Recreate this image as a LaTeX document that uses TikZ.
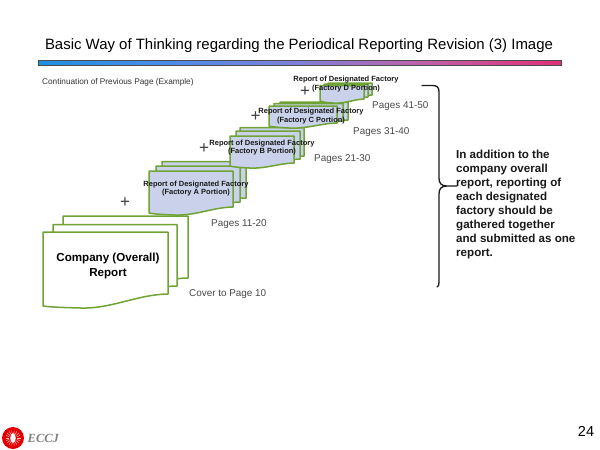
\documentclass[tikz,border=0pt]{standalone}
\usepackage{fontspec}
\setmainfont{Liberation Sans}
\newfontfamily\logofont{Liberation Serif}
\definecolor{docgreen}{HTML}{6FA335}
\definecolor{docfill}{HTML}{C9D2EA}
\definecolor{pagegray}{HTML}{4A4A4A}
\definecolor{barA}{HTML}{1E8FE0}
\definecolor{barB}{HTML}{4A8CEA}
\definecolor{barC}{HTML}{8080D8}
\definecolor{barD}{HTML}{C060A8}
\definecolor{barE}{HTML}{E03078}
\definecolor{barF}{HTML}{E0186E}
\pgfdeclarehorizontalshading{barshade}{100bp}{
  color(0bp)=(barA);
  color(25bp)=(barA);
  color(37bp)=(barB);
  color(50bp)=(barC);
  color(62bp)=(barD);
  color(75bp)=(barE);
  color(100bp)=(barF)}
\tikzset{
  pagedoc/.style={draw=docgreen,line width=1.5pt,line join=round},
  whitedoc/.style={pagedoc,fill=white},
  bluedoc/.style={pagedoc,fill=docfill},
  reportlabel/.style={font=\bfseries\fontsize{7.5}{8.6}\selectfont,align=center,inner sep=0pt,text=black!90},
  pagelabel/.style={font=\fontsize{9.9}{11}\selectfont,text=pagegray,anchor=west,inner sep=0pt},
  plusmark/.style={font=\fontsize{17}{17}\selectfont,text=black!75,inner sep=0pt},
}
% #1 style, #2 left, #3 top, #4 right, #5 bottom at the right, #6 bottom at the left
\newcommand\pagedocshape[6]{%
  \draw[#1] (#2,#3) -- (#4,#3) -- (#4,#5)
    .. controls ({#4-0.25*(#4-#2)},{#5+0.5}) and ({#4-0.45*(#4-#2)},{#6+3}) ..
    ({#2+0.3*(#4-#2)},{#6+2})
    .. controls ({#2+0.15*(#4-#2)},{#6+1.5}) and ({#2+0.05*(#4-#2)},{#6+1}) ..
    (#2,#6) -- cycle;}
\begin{document}
\begin{tikzpicture}[x=1pt,y=-1pt]
\useasboundingbox (0,0) rectangle (600,450);
\fill[white] (0,0) rectangle (600,450);
\node[font=\fontsize{14.95}{18}\selectfont,inner sep=0pt] (title) at (299,46) {Basic Way of Thinking regarding the Periodical Reporting Revision (3) Image};
\path[shading=barshade,draw=black!70,line width=.7pt] (38.5,60.5) rectangle (561,65);
\node[font=\fontsize{8.25}{9}\selectfont,anchor=west,inner sep=0pt,text=black!80] (cont) at (42,82.5) {Continuation of Previous Page (Example)};

% company report
\pagedocshape{whitedoc}{63}{216}{188}{278}{290}
\pagedocshape{whitedoc}{53}{224.5}{177}{286}{298}
\pagedocshape{whitedoc}{43}{232}{168}{294}{306}
\node[font=\bfseries\fontsize{11.6}{15}\selectfont,align=center,inner sep=0pt] (company) at (108,266) {Company (Overall)\\Report};
\node[pagelabel] (p1) at (189,294) {Cover to Page 10};

% factory A
\pagedocshape{bluedoc}{162}{161.5}{246}{198}{204}
\pagedocshape{bluedoc}{156}{166}{240}{202}{208}
\pagedocshape{bluedoc}{149}{171}{233}{207}{213}
\node[reportlabel] (fa) at (196,188.5) {Report of Designated Factory\\(Factory A Portion)};
\node[pagelabel] (p2) at (211,224) {Pages 11-20};
\node[plusmark] (plus1) at (125,203) {+};

% factory B
\pagedocshape{bluedoc}{240}{127.5}{304}{156}{160}
\pagedocshape{bluedoc}{236}{131}{300}{159}{163}
\pagedocshape{bluedoc}{230}{136}{294}{163}{166}
\node[reportlabel] (fb) at (262,147.5) {Report of Designated Factory\\(Factory B Portion)};
\node[pagelabel] (p3) at (314,159) {Pages 21-30};
\node[plusmark] (plus2) at (204,149) {+};

% factory C
\pagedocshape{bluedoc}{280}{102}{348}{120}{122}
\pagedocshape{bluedoc}{274}{103.5}{343}{121}{124}
\pagedocshape{bluedoc}{269}{106}{337}{123}{126}
\node[reportlabel] (fc) at (311,116) {Report of Designated Factory\\(Factory C Portion)};
\node[pagelabel] (p4) at (353,132) {Pages 31-40};
\node[plusmark] (plus3) at (255.5,117) {+};

% factory D
\pagedocshape{bluedoc}{328}{83}{372}{95}{98}
\pagedocshape{bluedoc}{324}{84}{368}{97}{100}
\pagedocshape{bluedoc}{320}{85.5}{364}{99}{101}
\node[reportlabel] (fd) at (346,84) {Report of Designated Factory\\(Factory D Portion)};
\node[pagelabel] (p5) at (372,106) {Pages 41-50};
\node[plusmark] (plus4) at (305,92) {+};

% brace
\coordinate (bracetop) at (422,85.5);
\coordinate (bracetip) at (457,186);
\coordinate (bracebot) at (437,287);
\draw[line width=1.3pt,black!90,line cap=round] (bracetop) -- (432,85.5)
  .. controls (437,85.5) and (439,87) .. (439,92) -- (439,178)
  .. controls (439,183) and (441,186) .. (447,186) -- (bracetip)
  (447,186) .. controls (441,186) and (439,189) .. (439,194) -- (439,282)
  .. controls (439,285) and (438.5,286.5) .. (bracebot);
\node[font=\bfseries\fontsize{11.6}{14}\selectfont,align=left,anchor=north west,inner sep=0pt,text=black!90] (note) at (456,150)
  {In addition to the\\company overall\\report, reporting of\\each designated\\factory should be\\gathered together\\and submitted as one\\report.};

% footer
\fill[red!90!black] (13,438) circle (11);
\foreach \a in {0,20,...,340} \draw[red!25!white,line width=.5pt] (13,438) ++(\a:4) -- ++(\a:3.5);
\fill[white] (13,438) ellipse (2.8 and 4.8);
\node[font=\logofont\bfseries\itshape\fontsize{12.5}{14}\selectfont,text=gray,anchor=west,inner sep=0pt] (eccj) at (27.5,438.5) {ECCJ};
\node[font=\fontsize{14.5}{16}\selectfont,inner sep=0pt] (pageno) at (586,431) {24};
\end{tikzpicture}
\end{document}
